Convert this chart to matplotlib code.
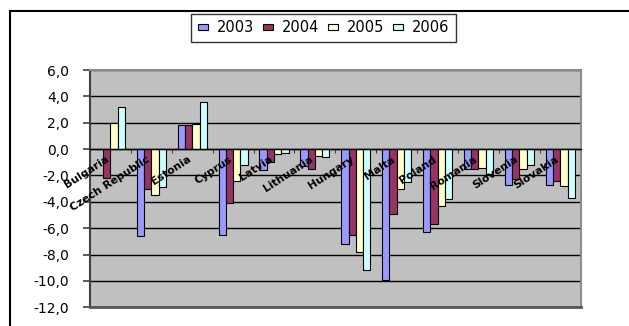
import matplotlib
matplotlib.use('Agg')
import matplotlib.pyplot as plt
import numpy as np
from matplotlib.patches import Rectangle

countries = ['Bulgaria', 'Czech Republic', 'Estonia', 'Cyprus', 'Latvia', 'Lithuania',
             'Hungary', 'Malta', 'Poland', 'Romania', 'Slovenia', 'Slovakia']
years = ['2003', '2004', '2005', '2006']
val_2003 = [0.0, -6.6, 1.8, -6.5, -1.6, -1.3, -7.2, -9.9, -6.3, -1.5, -2.7, -2.7]
val_2004 = [-2.2, -3.0, 1.8, -4.1, -1.0, -1.5, -6.5, -4.9, -5.7, -1.5, -2.3, -2.4]
val_2005 = [2.0, -3.5, 1.9, -2.4, -0.4, -0.5, -7.8, -3.0, -4.3, -1.4, -1.5, -2.8]
val_2006 = [3.2, -2.9, 3.6, -1.2, -0.3, -0.6, -9.2, -2.5, -3.8, -1.9, -1.2, -3.7]
y_ticks = [6, 4, 2, 0, -2, -4, -6, -8, -10, -12]

colors = ['#9999FF', '#993366', '#FFFFCC', '#CCFFFF']
series = [val_2003, val_2004, val_2005, val_2006]

W, H = 629, 326
fig = plt.figure(figsize=(W / 100, H / 100), dpi=100)
plt.rcParams['font.family'] = 'DejaVu Sans'

# outer chart frame, open past the right and bottom edges
fig.patches.append(Rectangle((10 / W, -0.2), 1.2, 1.2 - 11 / H,
                             transform=fig.transFigure, fill=False,
                             edgecolor='black', linewidth=1.5))

ax = fig.add_axes([90 / W, 1 - 307.3 / H, 490.7 / W, 237.3 / H])
ax.set_facecolor('#C0C0C0')

x = np.arange(len(countries))
bw = 0.178
for k, (vals, c, yr) in enumerate(zip(series, colors, years)):
    ax.bar(x + (k - 1.5) * bw, vals, bw, color=c, edgecolor='black',
           linewidth=0.8, label=yr, zorder=2)

ax.set_xlim(-0.5, len(countries) - 0.5)
ax.set_ylim(-12, 6)
ax.set_yticks(y_ticks)
ax.set_yticklabels([f'{v:.1f}'.replace('.', ',') for v in y_ticks], fontsize=10)
ax.yaxis.grid(True, color='black', linewidth=1.0)
ax.set_axisbelow(True)
ax.tick_params(axis='y', direction='out', length=5, width=1.2, color='#404040', pad=10)

# category axis runs along zero
ax.spines['bottom'].set_position(('data', 0))
ax.spines['bottom'].set_color('black')
ax.spines['bottom'].set_linewidth(1.0)
ax.set_xticks(np.arange(-0.5, len(countries), 1.0))
ax.set_xticklabels([])
ax.tick_params(axis='x', direction='out', length=3, width=0.8, color='#404040')
ax.axhline(-12, color='#555555', linewidth=2.0, clip_on=False, zorder=3)
ax.spines['left'].set_color('#404040')
ax.spines['left'].set_linewidth(1.5)
for s in ('top', 'right'):
    ax.spines[s].set_color('#8C8C8C')
    ax.spines[s].set_linewidth(1.5)

for i, name in enumerate(countries):
    ax.annotate(name, (i, 0), xytext=(-5, -5), textcoords='offset pixels',
                ha='right', va='top', rotation=33, rotation_mode='anchor',
                fontsize=7.8, fontweight='bold', zorder=4)

leg = ax.legend(loc='center', bbox_to_anchor=(323.5 / W, 1 - 28 / H),
                bbox_transform=fig.transFigure, ncol=4, fontsize=10.5,
                frameon=True, fancybox=False, shadow=False,
                handlelength=0.7, handleheight=0.3, handletextpad=0.6,
                columnspacing=0.6, borderpad=0.45, borderaxespad=0)
leg.get_frame().set_edgecolor('black')
leg.get_frame().set_linewidth(1.0)
for p in leg.get_patches():
    p.set_linewidth(0.8)

fig.savefig('out.png', dpi=100)
